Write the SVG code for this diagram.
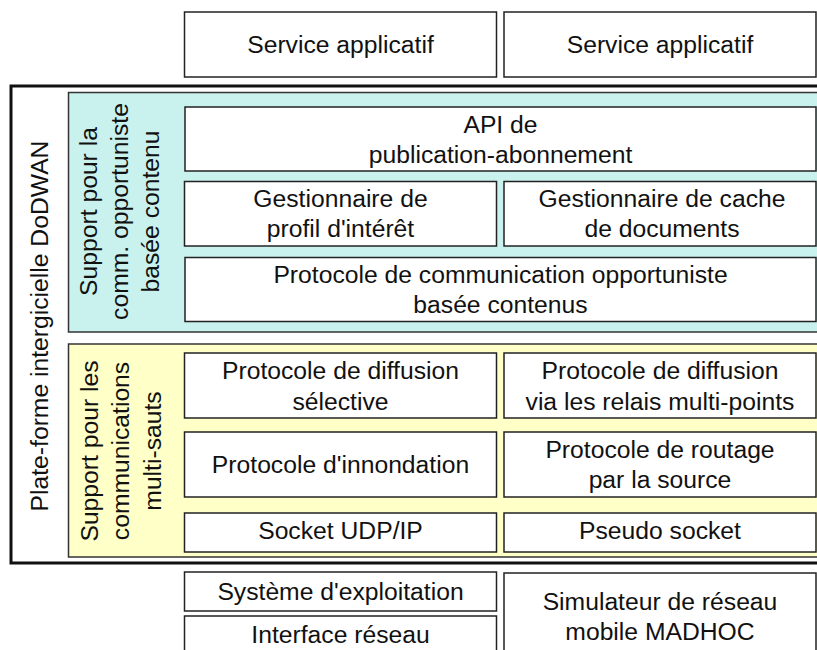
<svg xmlns="http://www.w3.org/2000/svg" width="817" height="650" viewBox="0 0 817 650">
<style>
.box{fill:#ffffff;stroke:#222;stroke-width:1.5}
.t{font-family:"Liberation Sans",Arial,sans-serif;font-size:24.7px;fill:#111;text-anchor:middle}
.cyan{fill:#c9f2ee;stroke:#333;stroke-width:1.5}
.yel{fill:#ffffc8;stroke:#333;stroke-width:1.5}
.outer{fill:#ffffff;stroke:#111;stroke-width:3}
</style>
<rect width="817" height="650" fill="#ffffff"/>
<g id="platform">
<rect class="outer" x="11" y="86" width="830" height="477"/>
<text class="t" transform="translate(48,326) rotate(-90)" x="0" y="0">Plate-forme intergicielle DoDWAN</text>
</g>
<g id="support-opportuniste">
<rect class="cyan" x="68.5" y="92.5" width="770" height="239.5"/>
<text class="t" transform="translate(128,211.5) rotate(-90)"><tspan x="0" y="-31">Support pour la</tspan><tspan x="0" y="0">comm. opportuniste</tspan><tspan x="0" y="31">basée contenu</tspan></text>
</g>
<g id="support-multisauts">
<rect class="yel" x="68.5" y="344" width="770" height="213"/>
<text class="t" transform="translate(129,451) rotate(-90)"><tspan x="0" y="-31.5">Support pour les</tspan><tspan x="0" y="0">communications</tspan><tspan x="0" y="31.5">multi-sauts</tspan></text>
</g>
<g id="service1"><rect class="box" x="184.5" y="12" width="312" height="65"/><text class="t" x="340.5" y="53">Service applicatif</text></g>
<g id="service2"><rect class="box" x="504" y="12" width="312" height="65"/><text class="t" x="660" y="53">Service applicatif</text></g>
<g id="api"><rect class="box" x="185" y="107" width="631" height="64"/><text class="t"><tspan x="500.5" y="133">API de</tspan><tspan x="500.5" y="163">publication-abonnement</tspan></text></g>
<g id="gest-profil"><rect class="box" x="184.5" y="181.5" width="312" height="64.5"/><text class="t"><tspan x="340.5" y="207">Gestionnaire de</tspan><tspan x="340.5" y="237">profil d'intérêt</tspan></text></g>
<g id="gest-cache"><rect class="box" x="504" y="181.5" width="312" height="64.5"/><text class="t"><tspan x="662" y="207">Gestionnaire de cache</tspan><tspan x="662" y="237">de documents</tspan></text></g>
<g id="proto-comm"><rect class="box" x="185" y="257.5" width="631" height="64"/><text class="t"><tspan x="500.5" y="283">Protocole de communication opportuniste</tspan><tspan x="500.5" y="313">basée contenus</tspan></text></g>
<g id="diff-sel"><rect class="box" x="184.5" y="353" width="312" height="65"/><text class="t"><tspan x="340.5" y="379">Protocole de diffusion</tspan><tspan x="340.5" y="410">sélective</tspan></text></g>
<g id="diff-mpr"><rect class="box" x="504" y="353" width="312" height="65"/><text class="t"><tspan x="660" y="379">Protocole de diffusion</tspan><tspan x="660" y="410">via les relais multi-points</tspan></text></g>
<g id="innondation"><rect class="box" x="184.5" y="432" width="312" height="65"/><text class="t" x="340.5" y="473">Protocole d'innondation</text></g>
<g id="routage"><rect class="box" x="504" y="432" width="312" height="65"/><text class="t"><tspan x="660" y="458">Protocole de routage</tspan><tspan x="660" y="488">par la source</tspan></text></g>
<g id="socket"><rect class="box" x="184.5" y="513" width="312" height="39"/><text class="t" x="340.5" y="539">Socket UDP/IP</text></g>
<g id="pseudo"><rect class="box" x="504" y="513" width="312" height="39"/><text class="t" x="660" y="539">Pseudo socket</text></g>
<g id="os"><rect class="box" x="184.5" y="572" width="312" height="39"/><text class="t" x="340.5" y="600">Système d'exploitation</text></g>
<g id="netif"><rect class="box" x="184.5" y="616" width="312" height="40"/><text class="t" x="340.5" y="643">Interface réseau</text></g>
<g id="simulateur"><rect class="box" x="504" y="573" width="312" height="87"/><text class="t"><tspan x="660" y="610">Simulateur de réseau</tspan><tspan x="660" y="640">mobile MADHOC</tspan></text></g>
<g id="connectors"></g>
</svg>
